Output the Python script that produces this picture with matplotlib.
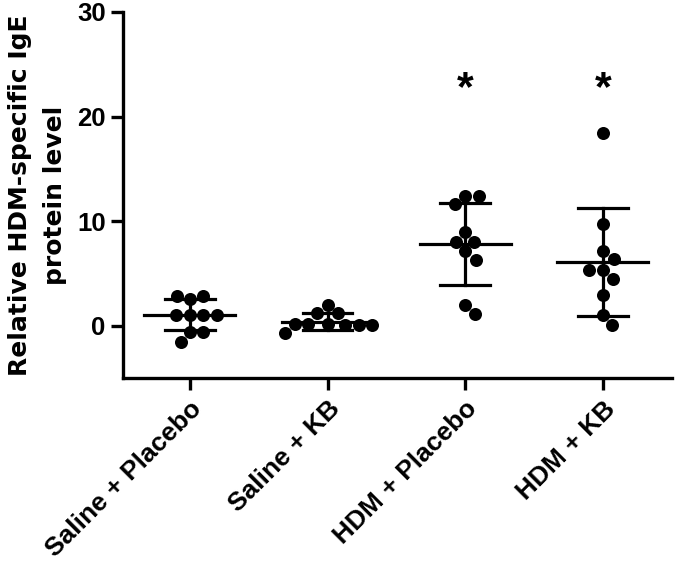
import numpy as np
import matplotlib.pyplot as plt

plt.rcParams['font.family'] = ['Liberation Sans', 'DejaVu Sans']
plt.rcParams['font.weight'] = 'bold'

groups = ['Saline + Placebo', 'Saline + KB', 'HDM + Placebo', 'HDM + KB']
saline_placebo = [2.6, 2.8, 2.8, 1.0, 1.0, 1.0, 1.0, -0.6, -0.6, -1.6]
saline_kb = [2.0, 1.2, 1.2, 0.2, 0.1, 0.2, 0.1, 0.2, 0.1, -0.7]
hdm_placebo = [12.4, 12.4, 11.6, 9.0, 8.05, 8.05, 7.1, 6.3, 2.0, 1.15]
hdm_kb = [18.4, 9.7, 7.1, 6.4, 5.35, 5.35, 4.5, 2.9, 1.05, 0.1]
means = [1.05, 0.4, 7.8, 6.1]
sds = [1.5, 0.8, 3.95, 5.15]
stars = ['', '', '*', '*']
star_y = 22.6

data = [saline_placebo, saline_kb, hdm_placebo, hdm_kb]

fig = plt.figure(figsize=(6.75, 5.66), dpi=100)
ax = fig.add_axes([0.1822, 0.3322, 0.8129, 0.6466])
ax.set_xlim(-0.486, 3.5)
ax.set_ylim(-5, 30)

# pixel scale, used to spread dots like a beeswarm
p0 = ax.transData.transform((0, 0))
p1 = ax.transData.transform((1, 1))
sx, sy = p1 - p0
d = 13.5


def swarm(vals):
    placed = []
    out = []
    for v in vals:
        y = v * sy
        cands = [0.0]
        for px, py in placed:
            dy = y - py
            if abs(dy) < d:
                dx = np.sqrt(d * d - dy * dy)
                cands += [px + dx, px - dx]
        cands.sort(key=abs)
        for c in cands:
            if all((c - px) ** 2 + (y - py) ** 2 >= d * d - 1e-6 for px, py in placed):
                break
        placed.append((c, y))
        out.append(c / sx)
    return np.array(out)


for i, vals in enumerate(data):
    xs = i + swarm(vals)
    ax.scatter(xs, vals, s=88, color='black', zorder=3, linewidths=0)
    m, s = means[i], sds[i]
    ax.plot([i - 0.33, i + 0.33], [m, m], color='black', lw=2.3, zorder=2)
    ax.plot([i, i], [m - s, m + s], color='black', lw=2.3, zorder=2)
    for yy in (m - s, m + s):
        ax.plot([i - 0.18, i + 0.18], [yy, yy], color='black', lw=2.3, zorder=2)
    if stars[i]:
        ax.text(i, star_y, stars[i], ha='center', va='center', fontsize=31, fontweight='bold')

ax.spines['top'].set_visible(False)
ax.spines['right'].set_visible(False)
ax.spines['left'].set_linewidth(2.4)
ax.spines['bottom'].set_linewidth(2.4)
ax.spines['left'].set_bounds(-5, 30)

ax.set_yticks([0, 10, 20, 30])
ax.set_xticks(range(len(groups)))
ax.set_xticklabels(groups, rotation=45, ha='right', rotation_mode='anchor')
ax.tick_params(axis='both', width=2.4, length=8.5)
ax.tick_params(axis='y', pad=4, labelsize=18.5)
ax.tick_params(axis='x', pad=5, labelsize=19)
ax.set_ylabel('Relative HDM-specific IgE\nprotein level', fontsize=18, fontweight='bold',
              family='DejaVu Sans', linespacing=1.6, labelpad=7)

fig.savefig('out.png', dpi=100)
